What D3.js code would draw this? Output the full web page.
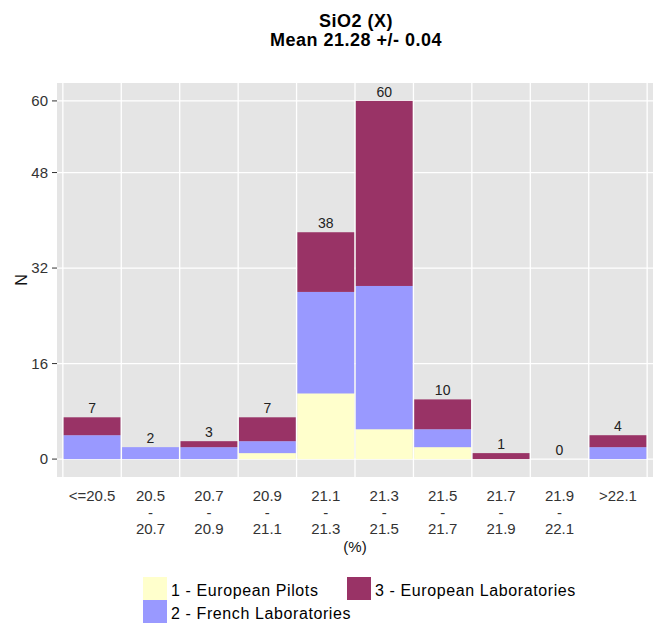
<!DOCTYPE html>
<html>
<head>
<meta charset="utf-8">
<script src="https://cdn.jsdelivr.net/npm/d3@7"></script>
<style>
  html, body { margin: 0; padding: 0; background: #ffffff; }
  svg { display: block; font-family: "Liberation Sans", Arial, sans-serif; }
</style>
</head>
<body>
<svg id="chart" width="657" height="623"></svg>
<script>
// ---- data ----
const categories = ["<=20.5", "20.5-20.7", "20.7-20.9", "20.9-21.1", "21.1-21.3",
                    "21.3-21.5", "21.5-21.7", "21.7-21.9", "21.9-22.1", ">22.1"];
const categoryLabels = [["<=20.5"], ["20.5", "-", "20.7"], ["20.7", "-", "20.9"],
                        ["20.9", "-", "21.1"], ["21.1", "-", "21.3"], ["21.3", "-", "21.5"],
                        ["21.5", "-", "21.7"], ["21.7", "-", "21.9"], ["21.9", "-", "22.1"],
                        [">22.1"]];
const europeanPilots = [0, 0, 0, 1, 11, 5, 2, 0, 0, 0];
const frenchLabs     = [4, 2, 2, 2, 17, 24, 3, 0, 0, 2];
const europeanLabs   = [3, 0, 1, 4, 10, 31, 5, 1, 0, 2];
const seriesNames = ["1 - European Pilots", "2 - French Laboratories", "3 - European Laboratories"];
const seriesColors = ["#FFFFCC", "#9999FF", "#993366"];
const yTicks = [0, 16, 32, 48, 60];
const titleLines = ["SiO2 (X)", "Mean 21.28 +/- 0.04"];
const xTitle = "(%)";
const yTitle = "N";

// ---- build table ----
const keys = ["p", "f", "e"];
const table = categories.map((c, i) => ({
  cat: c, p: europeanPilots[i], f: frenchLabs[i], e: europeanLabs[i],
  total: europeanPilots[i] + frenchLabs[i] + europeanLabs[i]
}));

const svg = d3.select("#chart");
const panel = { left: 57, right: 653, top: 83, bottom: 477 };

const x = d3.scaleBand().domain(categories)
  .range([panel.left, panel.right]).paddingInner(0).paddingOuter(0.1);
const y = d3.scaleLinear().domain([-3, 63]).range([panel.bottom, panel.top]);

// panel background
svg.append("rect")
  .attr("x", panel.left).attr("y", panel.top)
  .attr("width", panel.right - panel.left).attr("height", panel.bottom - panel.top)
  .attr("fill", "#E5E5E5");

// horizontal grid
svg.append("g").selectAll("line").data(yTicks).join("line")
  .attr("x1", panel.left).attr("x2", panel.right)
  .attr("y1", d => y(d)).attr("y2", d => y(d))
  .attr("stroke", "#ffffff").attr("stroke-width", 1.3);

// vertical grid at bin boundaries
const bounds = categories.map(c => x(c)).concat([x(categories[categories.length - 1]) + x.bandwidth()]);
svg.append("g").selectAll("line").data(bounds).join("line")
  .attr("x1", d => d).attr("x2", d => d)
  .attr("y1", panel.top).attr("y2", panel.bottom)
  .attr("stroke", "#ffffff").attr("stroke-width", 1.3);

// stacked bars
const stacked = d3.stack().keys(keys)(table);
const gBars = svg.append("g");
stacked.forEach((layer, li) => {
  gBars.append("g").selectAll("rect").data(layer.filter(d => d[1] - d[0] > 0)).join("rect")
    .attr("x", d => x(d.data.cat) + 0.8)
    .attr("width", x.bandwidth() - 1.6)
    .attr("y", d => y(d[1]))
    .attr("height", d => y(d[0]) - y(d[1]))
    .attr("fill", seriesColors[li]);
});

// total labels
svg.append("g").selectAll("text").data(table).join("text")
  .attr("x", d => x(d.cat) + x.bandwidth() / 2)
  .attr("y", d => y(d.total) - 4)
  .attr("text-anchor", "middle")
  .attr("font-size", 14)
  .attr("fill", "#222")
  .text(d => d.total);

// y axis
const gy = svg.append("g");
gy.selectAll("line").data(yTicks).join("line")
  .attr("x1", panel.left - 5).attr("x2", panel.left)
  .attr("y1", d => y(d)).attr("y2", d => y(d))
  .attr("stroke", "#333").attr("stroke-width", 1);
gy.selectAll("text").data(yTicks).join("text")
  .attr("x", panel.left - 9).attr("y", d => y(d) + 5)
  .attr("text-anchor", "end").attr("font-size", 15).attr("fill", "#333")
  .text(d => d);

// x axis labels
const gx = svg.append("g");
categories.forEach((c, i) => {
  const t = gx.append("text")
    .attr("x", x(c) + x.bandwidth() / 2)
    .attr("y", 501)
    .attr("text-anchor", "middle").attr("font-size", 15).attr("fill", "#333");
  categoryLabels[i].forEach((line, k) => {
    t.append("tspan").attr("x", x(c) + x.bandwidth() / 2)
      .attr("dy", k === 0 ? 0 : 16.5).text(line);
  });
});

// axis titles
svg.append("text").attr("x", (panel.left + panel.right) / 2).attr("y", 552)
  .attr("text-anchor", "middle").attr("font-size", 15).attr("fill", "#111").text(xTitle);
svg.append("text")
  .attr("transform", `translate(27, ${(panel.top + panel.bottom) / 2}) rotate(-90)`)
  .attr("text-anchor", "middle").attr("font-size", 16).attr("fill", "#111").text(yTitle);

// title
svg.append("g").selectAll("text").data(titleLines).join("text")
  .attr("x", 356).attr("y", (d, i) => 27 + i * 19)
  .attr("text-anchor", "middle").attr("font-size", 18).attr("font-weight", "bold")
  .attr("letter-spacing", 0.5)
  .attr("fill", "#000").text(d => d);

// legend
const legendPos = [[143, 577], [143, 600], [347, 577]];
const gl = svg.append("g");
seriesNames.forEach((name, i) => {
  const [lx, ly] = legendPos[i];
  gl.append("rect").attr("x", lx).attr("y", ly).attr("width", 24).attr("height", 23)
    .attr("fill", seriesColors[i]);
  gl.append("text").attr("x", lx + 28).attr("y", ly + 19)
    .attr("font-size", 16).attr("letter-spacing", 0.6)
    .attr("fill", "#000").text(name);
});
</script>
</body>
</html>
